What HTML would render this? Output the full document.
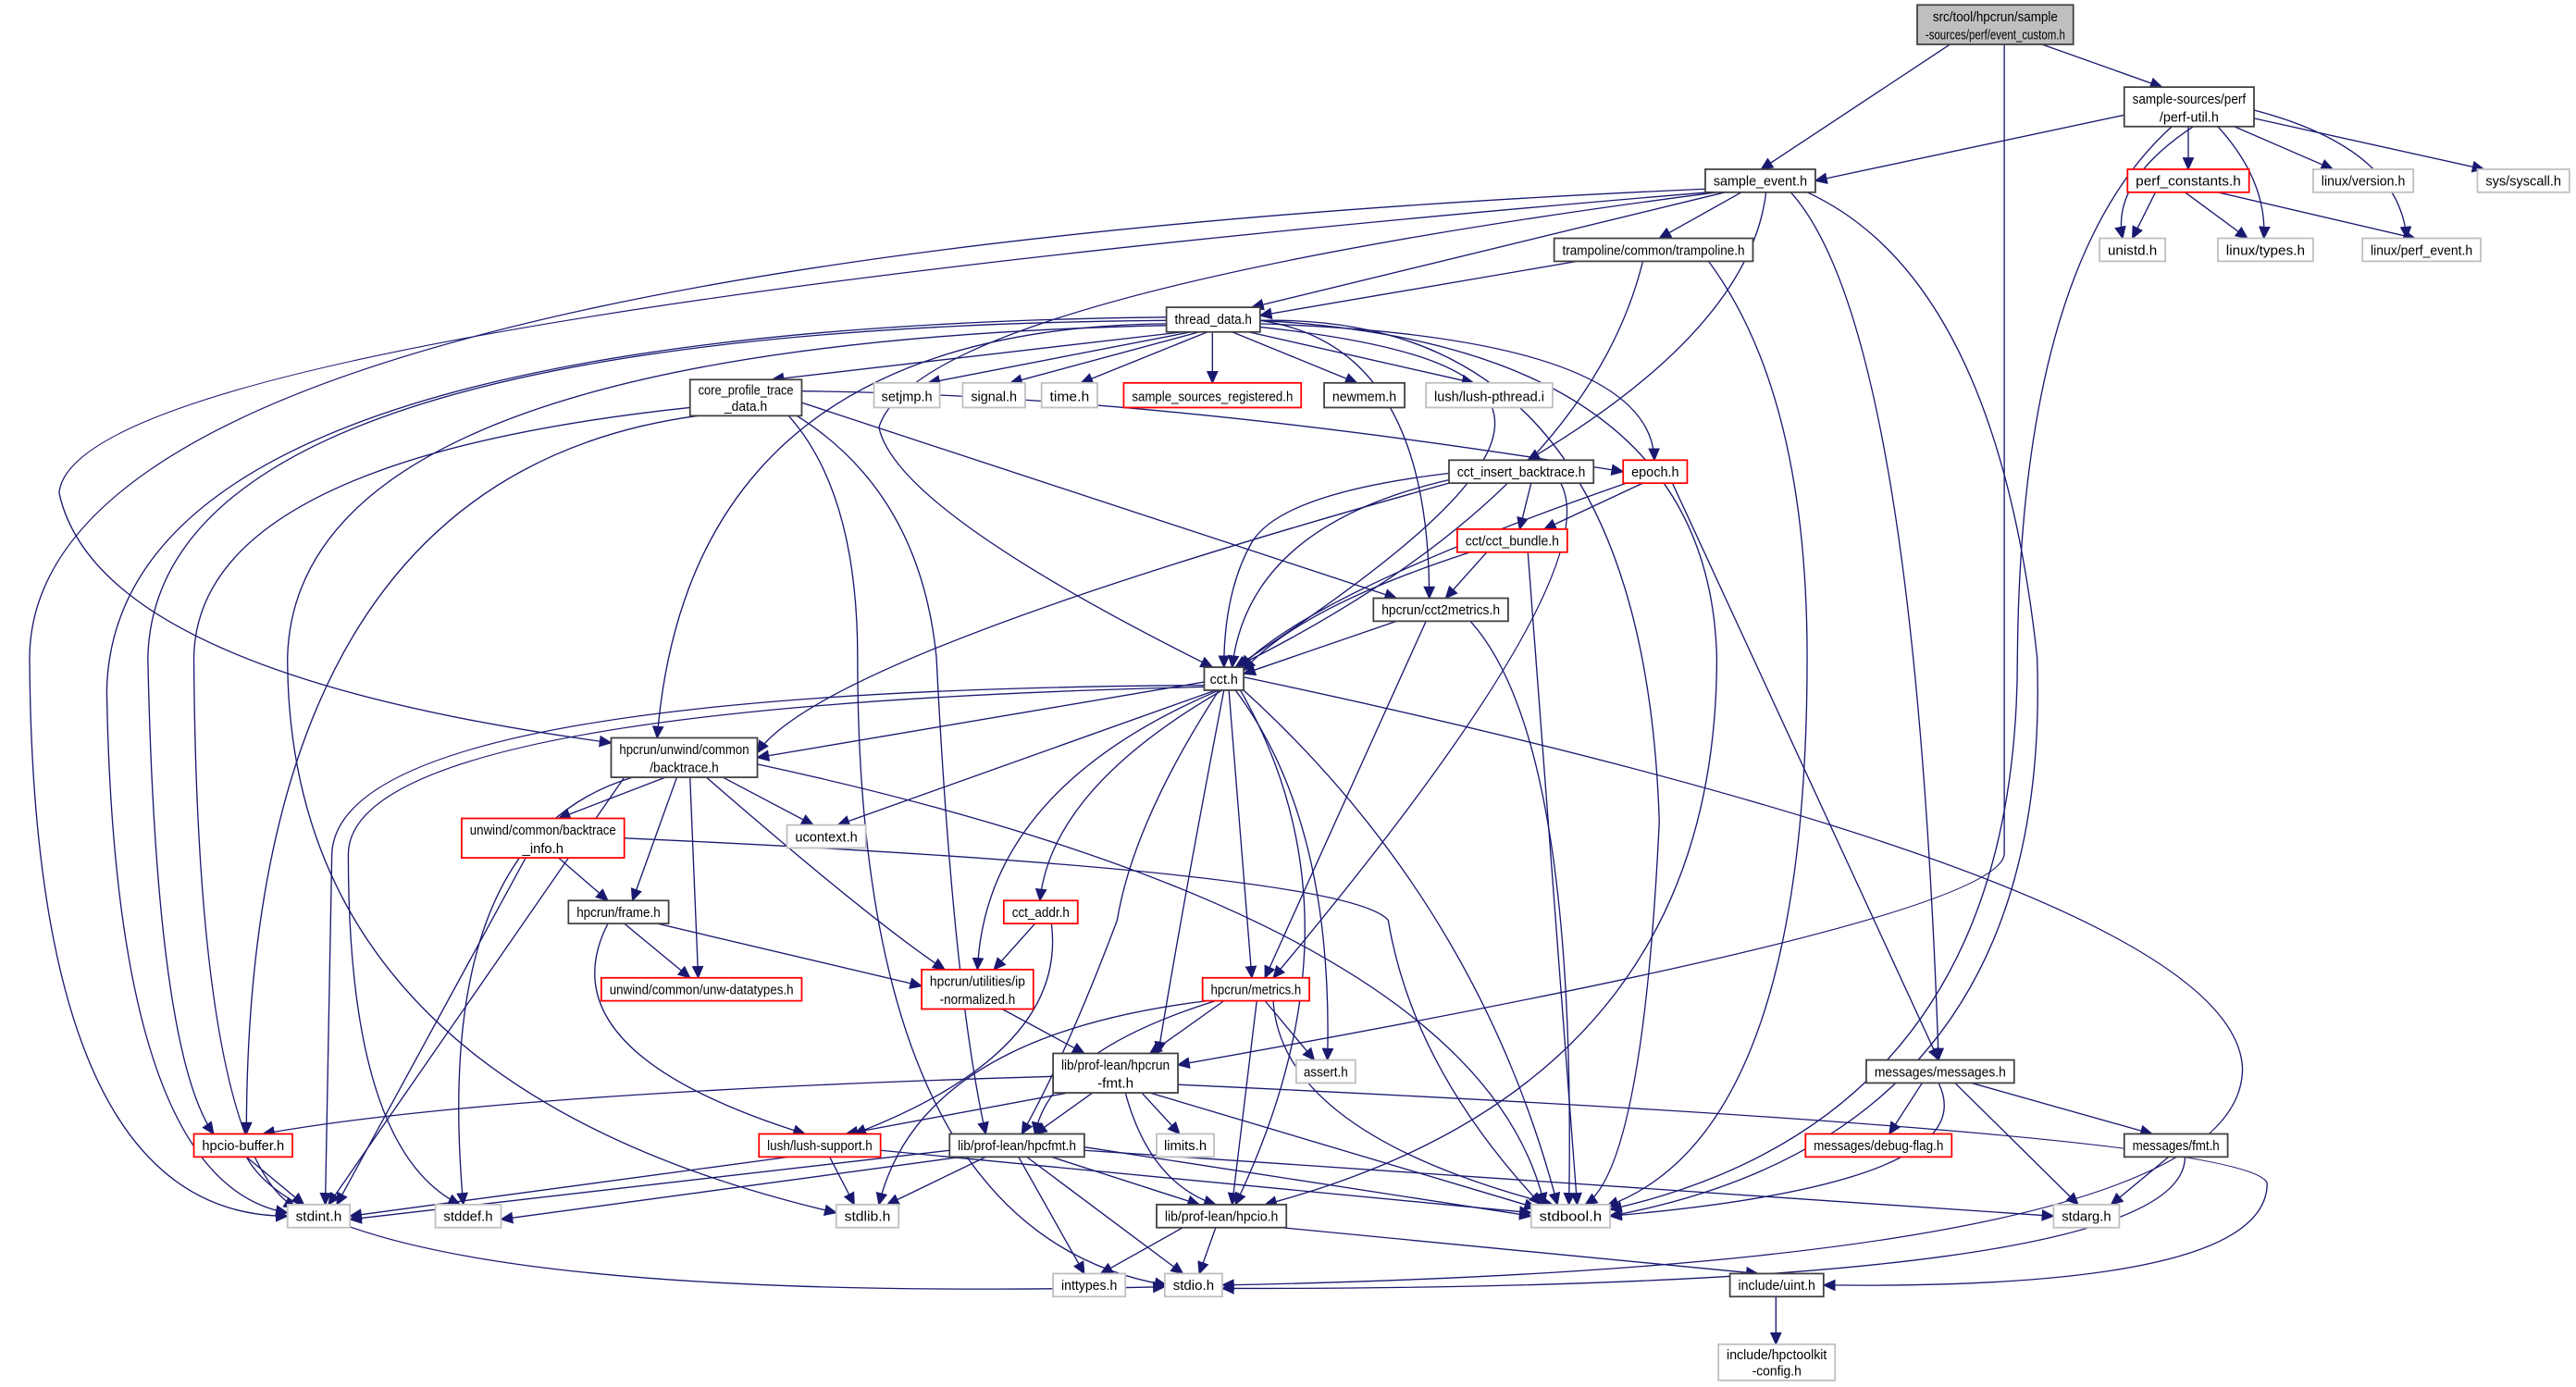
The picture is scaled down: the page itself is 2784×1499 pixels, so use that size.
<!DOCTYPE html>
<html><head><meta charset="utf-8"><style>
html,body{margin:0;padding:0;background:#fff;width:2784px;height:1499px;overflow:hidden}
svg{display:block}
text{font-family:"Liberation Sans",sans-serif;font-size:8.4px;fill:#000;text-anchor:middle}
.e{fill:none;stroke:#191970;stroke-width:0.75}
</style></head><body>
<svg width="2784" height="1499" viewBox="0 0 1568 844" preserveAspectRatio="none" xmlns="http://www.w3.org/2000/svg">
<defs><marker id="a" viewBox="0 0 10 10" refX="9" refY="5" markerWidth="8" markerHeight="8" markerUnits="userSpaceOnUse" orient="auto"><path d="M0,0.5 L10,5 L0,9.5 z" fill="#191970"/></marker></defs>
<g class="e" marker-end="url(#a)">
<path d="M1187,27 L1072,103"/>
<path d="M1220,27 L1220,520 Q1215,560 717,648"/>
<path d="M1243,27 L1316,53"/>
<path d="M1293,70 L1105,110"/>
<path d="M1335,77 Q1285,110 1292,145"/>
<path d="M1332,77 L1332,103"/>
<path d="M1350,77 Q1380,110 1378,145"/>
<path d="M1360,77 L1420,103"/>
<path d="M1372,72 L1512,103"/>
<path d="M1372,67 Q1460,90 1465,145"/>
<path d="M1322,77 Q1230,160 1228,400 Q1228,680 980,736"/>
<path d="M1312,117 L1298,145"/>
<path d="M1330,117 L1368,145"/>
<path d="M1350,117 L1470,145"/>
<path d="M1038,115 Q20,160 18,400 Q20,740 175,740"/>
<path d="M1040,117 Q45,200 36,300 Q60,410 372,452"/>
<path d="M1045,117 Q560,180 535,260 Q545,310 738,406"/>
<path d="M1050,117 L762,187"/>
<path d="M1060,117 L1010,145"/>
<path d="M1075,117 Q1065,200 930,280"/>
<path d="M1090,117 Q1165,200 1180,645"/>
<path d="M1100,117 Q1215,170 1240,400 Q1250,690 980,740"/>
<path d="M960,159 L767,192"/>
<path d="M1000,159 Q965,300 752,406"/>
<path d="M1040,159 Q1100,240 1100,400 Q1100,690 978,734"/>
<path d="M720,202 L470,231"/>
<path d="M725,202 L565,233"/>
<path d="M730,202 L615,233"/>
<path d="M735,202 L658,233"/>
<path d="M738,202 L738,233"/>
<path d="M750,202 L826,233"/>
<path d="M760,202 L897,233"/>
<path d="M710,197 Q420,200 400,449"/>
<path d="M710,193 Q70,200 65,420 Q70,720 175,738"/>
<path d="M710,195 Q95,200 90,400 Q95,640 130,690"/>
<path d="M710,198 Q180,210 175,400 Q175,660 509,738"/>
<path d="M767,199 C960,220 960,270 752,406"/>
<path d="M767,197 Q1005,205 1007,280"/>
<path d="M767,195 Q870,210 870,364"/>
<path d="M767,195 Q1000,190 1010,500 Q1000,710 965,733"/>
<path d="M767,195 Q1040,210 1045,400 Q1045,660 770,733"/>
<path d="M488,238 Q700,240 988,287"/>
<path d="M488,245 L850,364"/>
<path d="M420,248 Q120,280 118,400 Q120,700 180,735"/>
<path d="M425,253 Q150,290 150,690"/>
<path d="M480,253 Q522,300 522,400 Q522,750 710,782"/>
<path d="M485,253 Q560,300 570,400 Q580,600 600,690"/>
<path d="M932,294 L925,322"/>
<path d="M882,288 Q780,300 762,330 Q745,360 745,406"/>
<path d="M882,292 Q760,320 750,406"/>
<path d="M882,294 Q500,400 461,458"/>
<path d="M950,294 Q980,350 775,595"/>
<path d="M1000,294 L940,322"/>
<path d="M990,294 Q800,360 755,406"/>
<path d="M1018,294 L1180,645"/>
<path d="M905,336 L880,364"/>
<path d="M895,336 Q790,370 757,408"/>
<path d="M930,336 L960,733"/>
<path d="M850,378 L757,410"/>
<path d="M868,378 L770,595"/>
<path d="M895,378 Q960,450 955,733"/>
<path d="M733,415 L461,461"/>
<path d="M733,417 Q205,420 202,520 L198,733"/>
<path d="M733,418 Q212,430 212,520 Q212,700 280,733"/>
<path d="M740,420 L510,502"/>
<path d="M742,420 Q600,480 595,590"/>
<path d="M744,420 Q640,480 633,548"/>
<path d="M745,420 Q720,550 705,641"/>
<path d="M742,420 Q690,500 680,560 Q650,640 622,690"/>
<path d="M748,420 L762,595"/>
<path d="M752,420 Q812,500 808,645"/>
<path d="M755,420 Q835,560 752,733"/>
<path d="M757,420 Q900,550 948,733"/>
<path d="M757,412 Q1360,540 1365,650 Q1365,770 744,782"/>
<path d="M440,473 L495,502"/>
<path d="M405,473 L340,498"/>
<path d="M412,473 L385,548"/>
<path d="M420,473 L425,595"/>
<path d="M430,473 Q530,560 575,590"/>
<path d="M380,473 L200,733"/>
<path d="M385,473 Q262,510 282,733"/>
<path d="M461,465 Q900,560 940,733"/>
<path d="M340,522 L370,548"/>
<path d="M320,522 L205,733"/>
<path d="M380,510 Q820,530 845,560 Q860,650 938,733"/>
<path d="M380,562 L420,595"/>
<path d="M400,562 L561,600"/>
<path d="M370,562 Q330,640 490,690"/>
<path d="M630,562 L605,590"/>
<path d="M640,562 Q650,640 520,690"/>
<path d="M610,614 L660,641"/>
<path d="M745,609 L700,641"/>
<path d="M740,609 Q640,640 630,690"/>
<path d="M770,609 L800,645"/>
<path d="M765,609 Q755,690 750,733"/>
<path d="M775,609 Q780,690 945,733"/>
<path d="M735,609 Q560,630 535,733"/>
<path d="M641,655 Q300,665 160,690"/>
<path d="M650,665 L515,690"/>
<path d="M665,665 L630,690"/>
<path d="M695,665 L718,690"/>
<path d="M685,665 Q700,720 740,733"/>
<path d="M700,665 L935,735"/>
<path d="M717,660 Q1370,690 1380,720 Q1380,785 1110,782"/>
<path d="M480,704 L213,740"/>
<path d="M505,704 L520,733"/>
<path d="M536,700 L932,738"/>
<path d="M150,704 L185,733"/>
<path d="M150,704 Q200,795 709,783"/>
<path d="M578,700 L213,742"/>
<path d="M585,704 L305,742"/>
<path d="M600,704 L540,733"/>
<path d="M620,704 L660,775"/>
<path d="M625,704 L720,775"/>
<path d="M640,704 L730,733"/>
<path d="M660,698 L932,740"/>
<path d="M660,700 L1250,740"/>
<path d="M720,747 L670,775"/>
<path d="M740,747 L730,775"/>
<path d="M780,747 L1070,775"/>
<path d="M1170,659 L1150,690"/>
<path d="M1200,659 L1310,690"/>
<path d="M1190,659 L1265,733"/>
<path d="M1180,659 Q1210,720 980,740"/>
<path d="M1320,704 L1285,733"/>
<path d="M1330,704 Q1330,785 744,784"/>
<path d="M1081,789 L1081,818"/>
</g>
<g stroke-width="1" lengthAdjust="spacingAndGlyphs">
<rect x="1167" y="3" width="95" height="24" fill="#bfbfbf" stroke="#404040"/><text x="1214.5" y="13" textLength="76" lengthAdjust="spacingAndGlyphs">src/tool/hpcrun/sample</text><text x="1214.5" y="24" textLength="85" lengthAdjust="spacingAndGlyphs">-sources/perf/event_custom.h</text>
<rect x="1293" y="53" width="79" height="24" fill="#fff" stroke="#404040"/><text x="1332.5" y="63" textLength="69" lengthAdjust="spacingAndGlyphs">sample-sources/perf</text><text x="1332.5" y="74" textLength="36" lengthAdjust="spacingAndGlyphs">/perf-util.h</text>
<rect x="1038" y="103" width="67" height="14" fill="#fff" stroke="#404040"/><text x="1071.5" y="113" textLength="57" lengthAdjust="spacingAndGlyphs">sample_event.h</text>
<rect x="1295" y="103" width="74" height="14" fill="#fff" stroke="#f00"/><text x="1332" y="113" textLength="64" lengthAdjust="spacingAndGlyphs">perf_constants.h</text>
<rect x="1408" y="103" width="61" height="14" fill="#fff" stroke="#bfbfbf"/><text x="1438.5" y="113" textLength="51" lengthAdjust="spacingAndGlyphs">linux/version.h</text>
<rect x="1508" y="103" width="56" height="14" fill="#fff" stroke="#bfbfbf"/><text x="1536" y="113" textLength="46" lengthAdjust="spacingAndGlyphs">sys/syscall.h</text>
<rect x="1278" y="145" width="40" height="14" fill="#fff" stroke="#bfbfbf"/><text x="1298" y="155" textLength="30" lengthAdjust="spacingAndGlyphs">unistd.h</text>
<rect x="1350" y="145" width="58" height="14" fill="#fff" stroke="#bfbfbf"/><text x="1379" y="155" textLength="48" lengthAdjust="spacingAndGlyphs">linux/types.h</text>
<rect x="1438" y="145" width="72" height="14" fill="#fff" stroke="#bfbfbf"/><text x="1474" y="155" textLength="62" lengthAdjust="spacingAndGlyphs">linux/perf_event.h</text>
<rect x="946" y="145" width="121" height="14" fill="#fff" stroke="#404040"/><text x="1006.5" y="155" textLength="111" lengthAdjust="spacingAndGlyphs">trampoline/common/trampoline.h</text>
<rect x="710" y="187" width="57" height="15" fill="#fff" stroke="#404040"/><text x="738.5" y="197" textLength="47" lengthAdjust="spacingAndGlyphs">thread_data.h</text>
<rect x="420" y="231" width="68" height="22" fill="#fff" stroke="#404040"/><text x="454" y="240" textLength="58" lengthAdjust="spacingAndGlyphs">core_profile_trace</text><text x="454" y="250" textLength="26" lengthAdjust="spacingAndGlyphs">_data.h</text>
<rect x="532" y="233" width="40" height="15" fill="#fff" stroke="#bfbfbf"/><text x="552" y="244" textLength="31" lengthAdjust="spacingAndGlyphs">setjmp.h</text>
<rect x="586" y="233" width="38" height="15" fill="#fff" stroke="#bfbfbf"/><text x="605" y="244" textLength="28" lengthAdjust="spacingAndGlyphs">signal.h</text>
<rect x="634" y="233" width="34" height="15" fill="#fff" stroke="#bfbfbf"/><text x="651" y="244" textLength="24" lengthAdjust="spacingAndGlyphs">time.h</text>
<rect x="684" y="233" width="108" height="15" fill="#fff" stroke="#f00"/><text x="738" y="244" textLength="98" lengthAdjust="spacingAndGlyphs">sample_sources_registered.h</text>
<rect x="806" y="233" width="49" height="15" fill="#fff" stroke="#404040"/><text x="830.5" y="244" textLength="39" lengthAdjust="spacingAndGlyphs">newmem.h</text>
<rect x="868" y="233" width="77" height="15" fill="#fff" stroke="#bfbfbf"/><text x="906.5" y="244" textLength="67" lengthAdjust="spacingAndGlyphs">lush/lush-pthread.i</text>
<rect x="882" y="280" width="88" height="14" fill="#fff" stroke="#404040"/><text x="926" y="290" textLength="78" lengthAdjust="spacingAndGlyphs">cct_insert_backtrace.h</text>
<rect x="988" y="280" width="39" height="14" fill="#fff" stroke="#f00"/><text x="1007.5" y="290" textLength="29" lengthAdjust="spacingAndGlyphs">epoch.h</text>
<rect x="887" y="322" width="67" height="14" fill="#fff" stroke="#f00"/><text x="920.5" y="332" textLength="57" lengthAdjust="spacingAndGlyphs">cct/cct_bundle.h</text>
<rect x="836" y="364" width="82" height="14" fill="#fff" stroke="#404040"/><text x="877" y="374" textLength="72" lengthAdjust="spacingAndGlyphs">hpcrun/cct2metrics.h</text>
<rect x="733" y="406" width="24" height="14" fill="#fff" stroke="#404040"/><text x="745" y="416" textLength="17" lengthAdjust="spacingAndGlyphs">cct.h</text>
<rect x="372" y="449" width="89" height="24" fill="#fff" stroke="#404040"/><text x="416.5" y="459" textLength="79" lengthAdjust="spacingAndGlyphs">hpcrun/unwind/common</text><text x="416.5" y="470" textLength="42" lengthAdjust="spacingAndGlyphs">/backtrace.h</text>
<rect x="479" y="502" width="48" height="14" fill="#fff" stroke="#bfbfbf"/><text x="503" y="512" textLength="38" lengthAdjust="spacingAndGlyphs">ucontext.h</text>
<rect x="281" y="498" width="99" height="24" fill="#fff" stroke="#f00"/><text x="330.5" y="508" textLength="89" lengthAdjust="spacingAndGlyphs">unwind/common/backtrace</text><text x="330.5" y="519" textLength="25" lengthAdjust="spacingAndGlyphs">_info.h</text>
<rect x="346" y="548" width="61" height="14" fill="#fff" stroke="#404040"/><text x="376.5" y="558" textLength="51" lengthAdjust="spacingAndGlyphs">hpcrun/frame.h</text>
<rect x="611" y="548" width="45" height="14" fill="#fff" stroke="#f00"/><text x="633.5" y="558" textLength="35" lengthAdjust="spacingAndGlyphs">cct_addr.h</text>
<rect x="366" y="595" width="122" height="14" fill="#fff" stroke="#f00"/><text x="427" y="605" textLength="112" lengthAdjust="spacingAndGlyphs">unwind/common/unw-datatypes.h</text>
<rect x="561" y="590" width="68" height="24" fill="#fff" stroke="#f00"/><text x="595" y="600" textLength="58" lengthAdjust="spacingAndGlyphs">hpcrun/utilities/ip</text><text x="595" y="611" textLength="46" lengthAdjust="spacingAndGlyphs">-normalized.h</text>
<rect x="732" y="595" width="65" height="14" fill="#fff" stroke="#f00"/><text x="764.5" y="605" textLength="55" lengthAdjust="spacingAndGlyphs">hpcrun/metrics.h</text>
<rect x="641" y="641" width="76" height="24" fill="#fff" stroke="#404040"/><text x="679" y="651" textLength="66" lengthAdjust="spacingAndGlyphs">lib/prof-lean/hpcrun</text><text x="679" y="662" textLength="22" lengthAdjust="spacingAndGlyphs">-fmt.h</text>
<rect x="789" y="645" width="36" height="14" fill="#fff" stroke="#bfbfbf"/><text x="807" y="655" textLength="27" lengthAdjust="spacingAndGlyphs">assert.h</text>
<rect x="1136" y="645" width="90" height="14" fill="#fff" stroke="#404040"/><text x="1181" y="655" textLength="80" lengthAdjust="spacingAndGlyphs">messages/messages.h</text>
<rect x="704" y="690" width="35" height="14" fill="#fff" stroke="#bfbfbf"/><text x="721.5" y="700" textLength="26" lengthAdjust="spacingAndGlyphs">limits.h</text>
<rect x="462" y="690" width="74" height="14" fill="#fff" stroke="#f00"/><text x="499" y="700" textLength="64" lengthAdjust="spacingAndGlyphs">lush/lush-support.h</text>
<rect x="118" y="690" width="60" height="14" fill="#fff" stroke="#f00"/><text x="148" y="700" textLength="50" lengthAdjust="spacingAndGlyphs">hpcio-buffer.h</text>
<rect x="578" y="690" width="82" height="14" fill="#fff" stroke="#404040"/><text x="619" y="700" textLength="72" lengthAdjust="spacingAndGlyphs">lib/prof-lean/hpcfmt.h</text>
<rect x="1099" y="690" width="89" height="14" fill="#fff" stroke="#f00"/><text x="1143.5" y="700" textLength="79" lengthAdjust="spacingAndGlyphs">messages/debug-flag.h</text>
<rect x="1293" y="690" width="63" height="14" fill="#fff" stroke="#404040"/><text x="1324.5" y="700" textLength="53" lengthAdjust="spacingAndGlyphs">messages/fmt.h</text>
<rect x="175" y="733" width="38" height="14" fill="#fff" stroke="#bfbfbf"/><text x="194" y="743" textLength="28" lengthAdjust="spacingAndGlyphs">stdint.h</text>
<rect x="265" y="733" width="40" height="14" fill="#fff" stroke="#bfbfbf"/><text x="285" y="743" textLength="30" lengthAdjust="spacingAndGlyphs">stddef.h</text>
<rect x="509" y="733" width="38" height="14" fill="#fff" stroke="#bfbfbf"/><text x="528" y="743" textLength="28" lengthAdjust="spacingAndGlyphs">stdlib.h</text>
<rect x="932" y="733" width="48" height="14" fill="#fff" stroke="#bfbfbf"/><text x="956" y="743" textLength="38" lengthAdjust="spacingAndGlyphs">stdbool.h</text>
<rect x="1250" y="733" width="40" height="14" fill="#fff" stroke="#bfbfbf"/><text x="1270" y="743" textLength="30" lengthAdjust="spacingAndGlyphs">stdarg.h</text>
<rect x="704" y="733" width="79" height="14" fill="#fff" stroke="#404040"/><text x="743.5" y="743" textLength="69" lengthAdjust="spacingAndGlyphs">lib/prof-lean/hpcio.h</text>
<rect x="641" y="775" width="44" height="14" fill="#fff" stroke="#bfbfbf"/><text x="663" y="785" textLength="34" lengthAdjust="spacingAndGlyphs">inttypes.h</text>
<rect x="709" y="775" width="35" height="14" fill="#fff" stroke="#bfbfbf"/><text x="726.5" y="785" textLength="25" lengthAdjust="spacingAndGlyphs">stdio.h</text>
<rect x="1053" y="775" width="57" height="14" fill="#fff" stroke="#404040"/><text x="1081.5" y="785" textLength="47" lengthAdjust="spacingAndGlyphs">include/uint.h</text>
<rect x="1046" y="818" width="71" height="22" fill="#fff" stroke="#bfbfbf"/><text x="1081.5" y="827" textLength="61" lengthAdjust="spacingAndGlyphs">include/hpctoolkit</text><text x="1081.5" y="837" textLength="30" lengthAdjust="spacingAndGlyphs">-config.h</text>
</g>
</svg>
</body></html>
